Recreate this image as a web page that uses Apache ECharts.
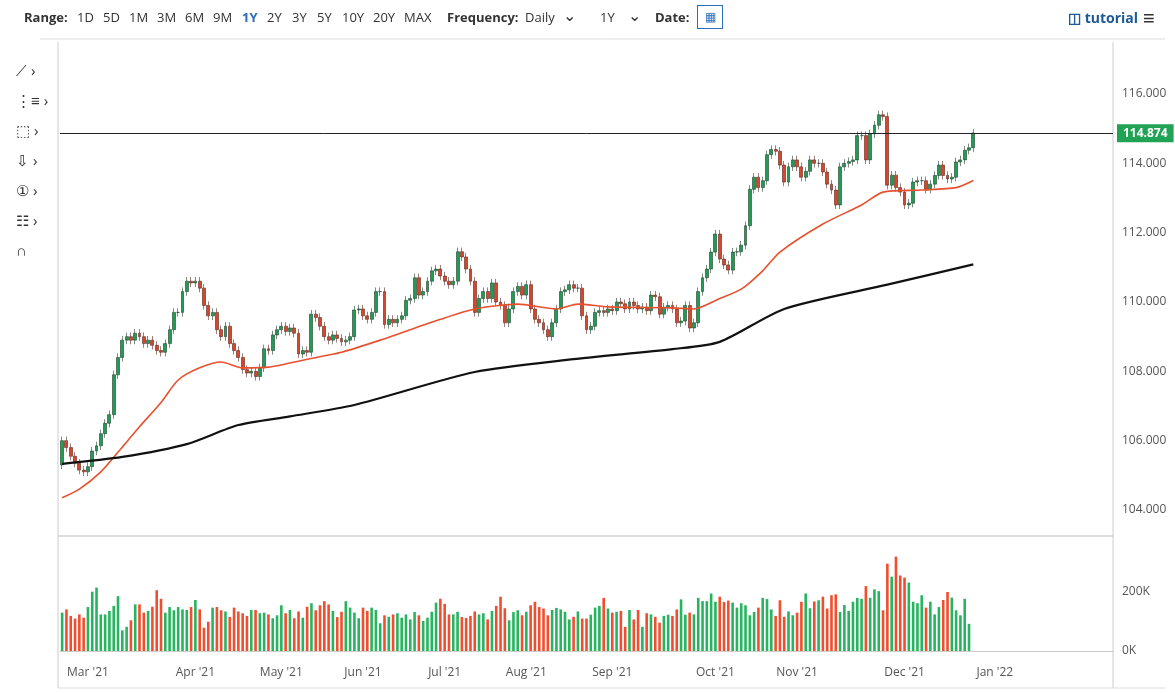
<!DOCTYPE html>
<html>
<head>
<meta charset="utf-8">
<script src="https://cdn.jsdelivr.net/npm/echarts@6/dist/echarts.min.js"></script>
<style>
  body { margin: 0; background: #fff; font-family: 'Open Sans', sans-serif; }
  #bar { position: absolute; left: 0; top: 0; width: 1175px; height: 38px; font-size: 13px; color: #333; }
  #bar span { position: absolute; top: 8px; }
  .b { font-weight: bold; }
  #tools { position: absolute; left: 16px; top: 55px; font-size: 15px; color: #333; line-height: 30px; }
  #chart { position: absolute; left: 0; top: 0; width: 1175px; height: 693px; }
</style>
</head>
<body>
<div id="chart"></div>
<div id="bar">
  <span class="b" style="left:24px">Range:</span>
  <span style="left:77px">1D</span><span style="left:103px">5D</span><span style="left:129px">1M</span>
  <span style="left:157px">3M</span><span style="left:185px">6M</span><span style="left:213px">9M</span>
  <span class="b" style="left:242px;color:#2a6ebb">1Y</span><span style="left:267px">2Y</span>
  <span style="left:292px">3Y</span><span style="left:317px">5Y</span><span style="left:342px">10Y</span>
  <span style="left:373px">20Y</span><span style="left:404px">MAX</span>
  <span class="b" style="left:447px">Frequency:</span><span style="left:525px">Daily</span>
  <span style="left:563px;top:4px;font-size:16px">&#8964;</span>
  <span style="left:600px">1Y</span><span style="left:628px;top:4px;font-size:16px">&#8964;</span>
  <span class="b" style="left:655px">Date:</span>
  <span style="left:697px;top:5px;width:24px;height:22px;border:1px solid #2a6ebb;text-align:center;color:#2a6ebb;font-size:12px;line-height:22px">&#9638;</span>
  <span class="b" style="left:1068px;color:#1d5a96;font-size:14px">&#9707; tutorial</span>
  <span class="b" style="left:1143px;top:4px;font-size:20px">&#8801;</span>
</div>
<div id="tools">
  <div>&#10187; &#8250;</div><div>&#8942;&#8801; &#8250;</div><div>&#11034; &#8250;</div><div>&#8681; &#8250;</div>
  <div>&#9312; &#8250;</div><div>&#9783; &#8250;</div><div>&#8745;</div>
</div>
<script>
// daily closes
const closes = [
  106.0,105.8,105.55,105.35,105.15,105.1,105.25,105.7,105.85,106.2,
  106.5,106.75,107.9,108.4,108.9,109.0,108.9,109.1,109.0,108.8,
  108.9,108.75,108.6,108.55,108.8,109.2,109.7,109.7,110.3,110.6,
  110.55,110.6,110.4,109.9,109.6,109.7,109.2,109.0,109.3,108.8,
  108.6,108.4,108.05,107.95,108.0,107.85,108.1,108.65,108.6,109.05,
  109.2,109.3,109.15,109.25,109.1,108.5,108.6,108.55,109.65,109.55,
  109.3,109.0,108.9,109.05,108.95,108.85,108.9,109.0,109.77,109.8,
  109.6,109.5,109.7,110.3,110.3,109.35,109.5,109.4,109.5,109.6,
  110.05,110.1,110.7,110.2,110.3,110.6,110.9,110.95,110.75,110.6,
  110.5,110.6,111.45,111.3,110.95,110.6,109.7,110.1,110.3,110.1,
  110.55,110.0,109.9,109.4,109.8,110.3,110.45,110.2,110.5,109.8,
  109.5,109.4,109.2,109.0,109.4,109.8,110.3,110.35,110.5,110.4,
  110.4,109.6,109.2,109.3,109.7,109.75,109.7,109.8,109.75,110.0,
  109.95,109.8,110.0,109.9,109.8,109.85,109.75,110.2,110.15,109.65,
  109.85,109.9,109.8,109.4,109.45,109.9,109.25,109.4,110.3,110.7,
  110.95,111.44,111.96,111.24,111.07,110.92,111.44,111.45,111.64,112.2,
  113.25,113.6,113.3,113.5,114.25,114.4,114.35,113.95,113.46,113.9,
  114.1,113.9,113.6,113.77,114.1,114.0,114.0,113.75,113.4,113.23,
  112.8,113.9,114.0,114.05,114.1,114.8,114.8,114.1,114.85,115.1,
  115.4,115.35,113.37,113.66,113.3,113.17,112.8,112.85,113.46,113.5,
  113.5,113.25,113.4,113.65,113.95,113.65,113.55,113.6,114.04,114.1,
  114.38,114.45,114.874
];
const firstOpen = 105.3;
const wick = 0.12;

// volume in thousands
const volumes = [
  130,141,119,110,124,113,149,201,215,124,124,136,153,186,70,82,104,158,158,130,
  136,150,206,177,130,149,138,149,141,139,149,173,141,79,99,147,149,138,134,115,
  147,134,128,119,139,139,128,130,124,111,121,155,128,139,111,134,113,150,162,138,
  155,169,158,136,115,133,169,147,130,111,147,136,147,139,94,121,116,124,128,113,
  124,107,132,121,102,113,133,164,177,160,124,124,133,115,112,119,134,124,128,107,
  136,153,184,145,104,132,
  138,121,133,155,167,149,144,121,139,146,141,133,107,116,134,110,110,123,147,153,
  180,144,130,133,136,82,139,107,139,82,128,124,116,96,119,123,
  119,141,175,123,130,124,180,169,169,195,167,184,166,171,164,147,162,155,
  121,132,147,180,176,141,119,172,116,134,121,130,167,195,145,168,172,184,
  144,189,192,132,156,136,167,180,177,220,180,209,203,138,296,252,320,256,249,232,
  167,162,189,147,167,124,149,173,200,181,138,121,177,92
];

// 50 and 200 day averages: [bar index, value]
const ma50 = [
  [0,104.35],[4,104.6],[9,105.1],[13,105.67],[18,106.4],[23,107.1],[27,107.75],[32,108.1],
  [37,108.27],[42,108.1],[48,108.12],[57,108.35],[65,108.55],[74,108.9],[88,109.5],[96,109.8],
  [106,109.94],[115,109.8],[120,109.94],[127,109.86],[142,109.83],[147,109.8],[153,110.1],
  [158,110.37],[163,110.9],[167,111.44],[177,112.25],[186,112.8],[191,113.17],[200,113.23],
  [208,113.3],[212,113.505]
];
const ma200 = [
  [0,105.33],[14,105.53],[29,105.9],[41,106.45],[53,106.7],[68,107.03],[96,107.98],[119,108.35],
  [142,108.64],[153,108.85],[168,109.8],[192,110.5],[212,111.086]
];

const monthLabels = { 6: "Mar '21", 31: "Apr '21", 51: "May '21", 70: "Jun '21", 89: "Jul '21", 108: "Aug '21",
  128: "Sep '21", 152: "Oct '21", 171: "Nov '21", 196: "Dec '21", 217: "Jan '22" }
const nCats = 245

const cats = []
for (let i = 0; i < nCats; i++) cats.push(String(i))

const up = '#1f9d55', down = '#d8452b'
const candles = closes.map((c, i) => {
  const o = i === 0 ? firstOpen : closes[i - 1]
  return [o, c, Math.min(o, c) - wick, Math.max(o, c) + wick]
})
const vols = volumes.map((v, i) => ({
  value: v,
  itemStyle: { color: candles[i] && candles[i][1] >= candles[i][0] ? '#27b35f' : '#f04e2e' }
}))
const last = closes[closes.length - 1]

const tag = (val, color, txt) => ({
  yAxis: val,
  lineStyle: { opacity: 0 },
  label: { show: true, position: 'end', formatter: txt, color: '#fff', fontWeight: 'bold', fontSize: 12,
    backgroundColor: color, padding: [3, 6, 3, 6], distance: 4 }
})

const chart = echarts.init(document.getElementById('chart'))
chart.setOption({
  animation: false,
  textStyle: { fontFamily: 'Open Sans' },
  grid: [
    { left: 60, right: 62, top: 24.7, bottom: 113.7 },
    { left: 60, right: 62, top: 533, bottom: 42 }
  ],
  xAxis: [
    { type: 'category', gridIndex: 0, data: cats, show: false, boundaryGap: true },
    { type: 'value', gridIndex: 0, min: -0.5, max: nCats - 0.5, show: false },
    { type: 'category', gridIndex: 1, data: cats, boundaryGap: true,
      axisLine: { lineStyle: { color: '#ccc' } },
      axisTick: { interval: (i) => monthLabels[i] !== undefined, lineStyle: { color: '#bbb' }, length: 4 },
      axisLabel: { interval: (i) => monthLabels[i] !== undefined, formatter: (v) => monthLabels[+v] || '',
        color: '#555', fontSize: 12, margin: 16 } }
  ],
  yAxis: [
    { type: 'value', gridIndex: 0, position: 'right', min: 102, max: 118, interval: 2,
      splitLine: { show: false }, axisLine: { show: false }, axisTick: { show: false },
      axisLabel: { color: '#555', fontSize: 12, margin: 9,
        formatter: (v) => (v === 102 || v === 118) ? '' : v.toFixed(3) } },
    { type: 'value', gridIndex: 1, position: 'right', min: 0, max: 400, interval: 200,
      splitLine: { show: false }, axisLine: { show: false }, axisTick: { show: false },
      axisLabel: { color: '#555', fontSize: 12, margin: 9, formatter: (v) => v === 400 ? '' : v + 'K' } }
  ],
  series: [
    { type: 'candlestick', xAxisIndex: 0, yAxisIndex: 0, data: candles, barWidth: 3.4,
      itemStyle: { color: up, color0: down, borderColor: '#23402e', borderColor0: '#5a2a20', borderWidth: 0.6 },
      markLine: { symbol: 'none', silent: true, data: [
        { yAxis: last, lineStyle: { color: '#222', width: 1, type: 'solid' },
          label: { show: true, position: 'end', formatter: last.toFixed(3), color: '#fff', fontWeight: 'bold',
            fontSize: 12, backgroundColor: '#21a356', padding: [3, 6, 3, 6], distance: 4 } },
        tag(113.505, '#ef4f2b', '113.505'),
        tag(111.086, '#111', '111.086')
      ] } },
    { type: 'line', xAxisIndex: 1, yAxisIndex: 0, data: ma50, smooth: 0.25, showSymbol: false,
      lineStyle: { color: '#e8502e', width: 1.6 } },
    { type: 'line', xAxisIndex: 1, yAxisIndex: 0, data: ma200, smooth: 0.25, showSymbol: false,
      lineStyle: { color: '#111', width: 2.2 } },
    { type: 'bar', xAxisIndex: 2, yAxisIndex: 1, data: vols, barWidth: 2.6,
      markLine: { symbol: 'none', silent: true, data: [tag(92, '#21a356', '92K')] } }
  ],
  graphic: [
    { type: 'line', shape: { x1: 40, y1: 39, x2: 1165, y2: 39 }, style: { stroke: '#ddd' } },
    { type: 'line', shape: { x1: 58, y1: 42, x2: 58, y2: 688 }, style: { stroke: '#ccc' } },
    { type: 'line', shape: { x1: 1113, y1: 42, x2: 1113, y2: 688 }, style: { stroke: '#ccc' } },
    { type: 'line', shape: { x1: 58, y1: 536, x2: 1113, y2: 536 }, style: { stroke: '#bbb' } },
    { type: 'line', shape: { x1: 58, y1: 688, x2: 1165, y2: 688 }, style: { stroke: '#ddd' } }
  ]
})
</script>
</body>
</html>
